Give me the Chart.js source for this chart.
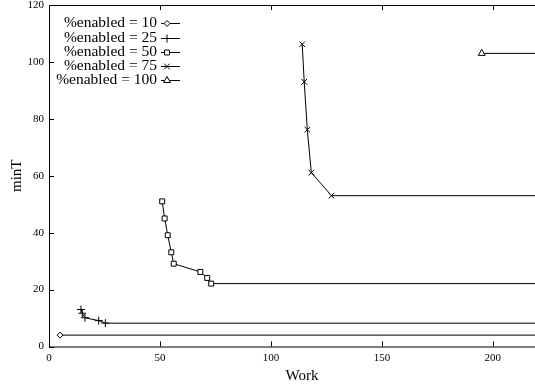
<!DOCTYPE html>
<html><head><meta charset="utf-8">
<script src="https://cdn.jsdelivr.net/npm/chart.js@4/dist/chart.umd.min.js"></script>
<style>html,body{margin:0;padding:0;background:#fff}#wrap{width:535px;height:391px}</style>
</head><body><div id="wrap"><canvas id="c"></canvas></div>
<script>
const seriesLabels = ['%enabled = 10', '%enabled = 25', '%enabled = 50', '%enabled = 75', '%enabled = 100'];
const pointStyles = ['rectRot', 'cross', 'rect', 'crossRot', 'triangle'];
const xTitle = 'Work';
const yTitle = 'minT';
const work10 = [5, 1000];
const minT10 = [4, 4];
const work25 = [14.4, 15, 16.2, 22.4, 25.4, 1000];
const minT25 = [13, 11.7, 10.1, 9.1, 8.2, 8.2];
const work50 = [51, 52.1, 53.5, 55.1, 56.2, 68.2, 71.3, 73.1, 1000];
const minT50 = [51, 45, 39.1, 33.1, 29.1, 26.2, 24.1, 22.1, 22.1];
const work75 = [114.1, 115, 116.4, 118.2, 127.3, 1000];
const minT75 = [106.2, 93, 76.2, 61.1, 53, 53];
const work100 = [195, 1000];
const minT100 = [103, 103];
const xTicks = [0, 50, 100, 150, 200];
const yTicks = [0, 20, 40, 60, 80, 100, 120];

const works = [work10, work25, work50, work75, work100];
const minTs = [minT10, minT25, minT50, minT75, minT100];
const pointRadii = [3, 4, 3.5, 4, 4];

const datasets = seriesLabels.map((lab, i) => ({
  label: lab,
  data: works[i].map((w, j) => ({x: w, y: minTs[i][j]})),
  borderColor: '#000',
  backgroundColor: '#fff',
  borderWidth: 1,
  pointStyle: pointStyles[i],
  pointRadius: works[i].map((w, j) => j === works[i].length - 1 ? 0 : pointRadii[i]),
  legendRadius: pointRadii[i],
  pointBorderColor: '#000',
  pointBackgroundColor: '#fff',
  pointBorderWidth: 1,
  tension: 0,
  showLine: true
}));

const framePlugin = {
  id: 'frame',
  afterDraw(chart) {
    const ctx = chart.ctx, a = chart.chartArea;
    const xs = chart.scales.x, ys = chart.scales.y;
    ctx.save();
    ctx.strokeStyle = '#000';
    ctx.lineWidth = 1;
    ctx.beginPath();
    ctx.moveTo(a.right + 5, a.top + 0.5); ctx.lineTo(a.left + 0.5, a.top + 0.5);
    ctx.lineTo(a.left + 0.5, a.bottom + 0.5); ctx.lineTo(a.right + 5, a.bottom + 0.5);
    xs.ticks.forEach(t => {
      const px = Math.round(xs.getPixelForValue(t.value)) + 0.5;
      ctx.moveTo(px, a.bottom); ctx.lineTo(px, a.bottom - 5);
      ctx.moveTo(px, a.top); ctx.lineTo(px, a.top + 5);
    });
    ys.ticks.forEach(t => {
      const py = Math.round(ys.getPixelForValue(t.value)) + 0.5;
      ctx.moveTo(a.left, py); ctx.lineTo(a.left + 5, py);
    });
    ctx.stroke();

    // x-axis title (offset to match the original's centring)
    ctx.fillStyle = '#000';
    ctx.font = '15px "Liberation Serif"';
    ctx.textAlign = 'center';
    ctx.textBaseline = 'middle';
    ctx.fillText(xTitle, (a.left + a.right) / 2 + 10, 376.5);

    ctx.font = '15.5px "Liberation Serif"';
    ctx.textAlign = 'right';
    ctx.textBaseline = 'middle';
    chart.data.datasets.forEach((ds, i) => {
      const y = 23.3 + i * 14.2;
      ctx.fillStyle = '#000';
      ctx.fillText(ds.label, 157, y);
      ctx.beginPath();
      ctx.moveTo(161, Math.round(y) + 0.5); ctx.lineTo(180, Math.round(y) + 0.5);
      ctx.stroke();
      ctx.fillStyle = '#fff';
      Chart.helpers.drawPoint(ctx, {pointStyle: ds.pointStyle, radius: ds.legendRadius, borderWidth: 1, rotation: 0}, 167, Math.round(y) + 0.5);
    });
    ctx.restore();
  }
};

new Chart(document.getElementById('c'), {
  type: 'scatter',
  data: {datasets},
  options: {
    responsive: true,
    maintainAspectRatio: false,
    animation: false,
    layout: {autoPadding: false, padding: {left: 8.5, right: 0, top: 5, bottom: 5.3}},
    plugins: {legend: {display: false}, tooltip: {enabled: false}},
    scales: {
      x: {
        type: 'linear', min: 0, max: 219,
        afterBuildTicks: s => { s.ticks = xTicks.map(v => ({value: v})); },
        afterFit: s => { s.paddingLeft = 0; s.paddingRight = 0; s.height = 39.2; },
        grid: {display: false, drawTicks: false},
        border: {display: false},
        ticks: {padding: 5, color: '#000', font: {family: 'Liberation Serif', size: 11}},
        title: {display: false, text: xTitle}
      },
      y: {
        type: 'linear', min: 0, max: 120,
        afterBuildTicks: s => { s.ticks = yTicks.map(v => ({value: v})); },
        afterFit: s => { s.paddingTop = 0; s.paddingBottom = 0; s.width = 40.5; },
        grid: {display: false, drawTicks: false},
        border: {display: false},
        ticks: {padding: 5, color: '#000', font: {family: 'Liberation Serif', size: 11}},
        title: {display: true, text: yTitle, color: '#000', font: {family: 'Liberation Serif', size: 15}, padding: {top: 0, bottom: 0}}
      }
    }
  },
  plugins: [framePlugin]
});
</script>
</body></html>
